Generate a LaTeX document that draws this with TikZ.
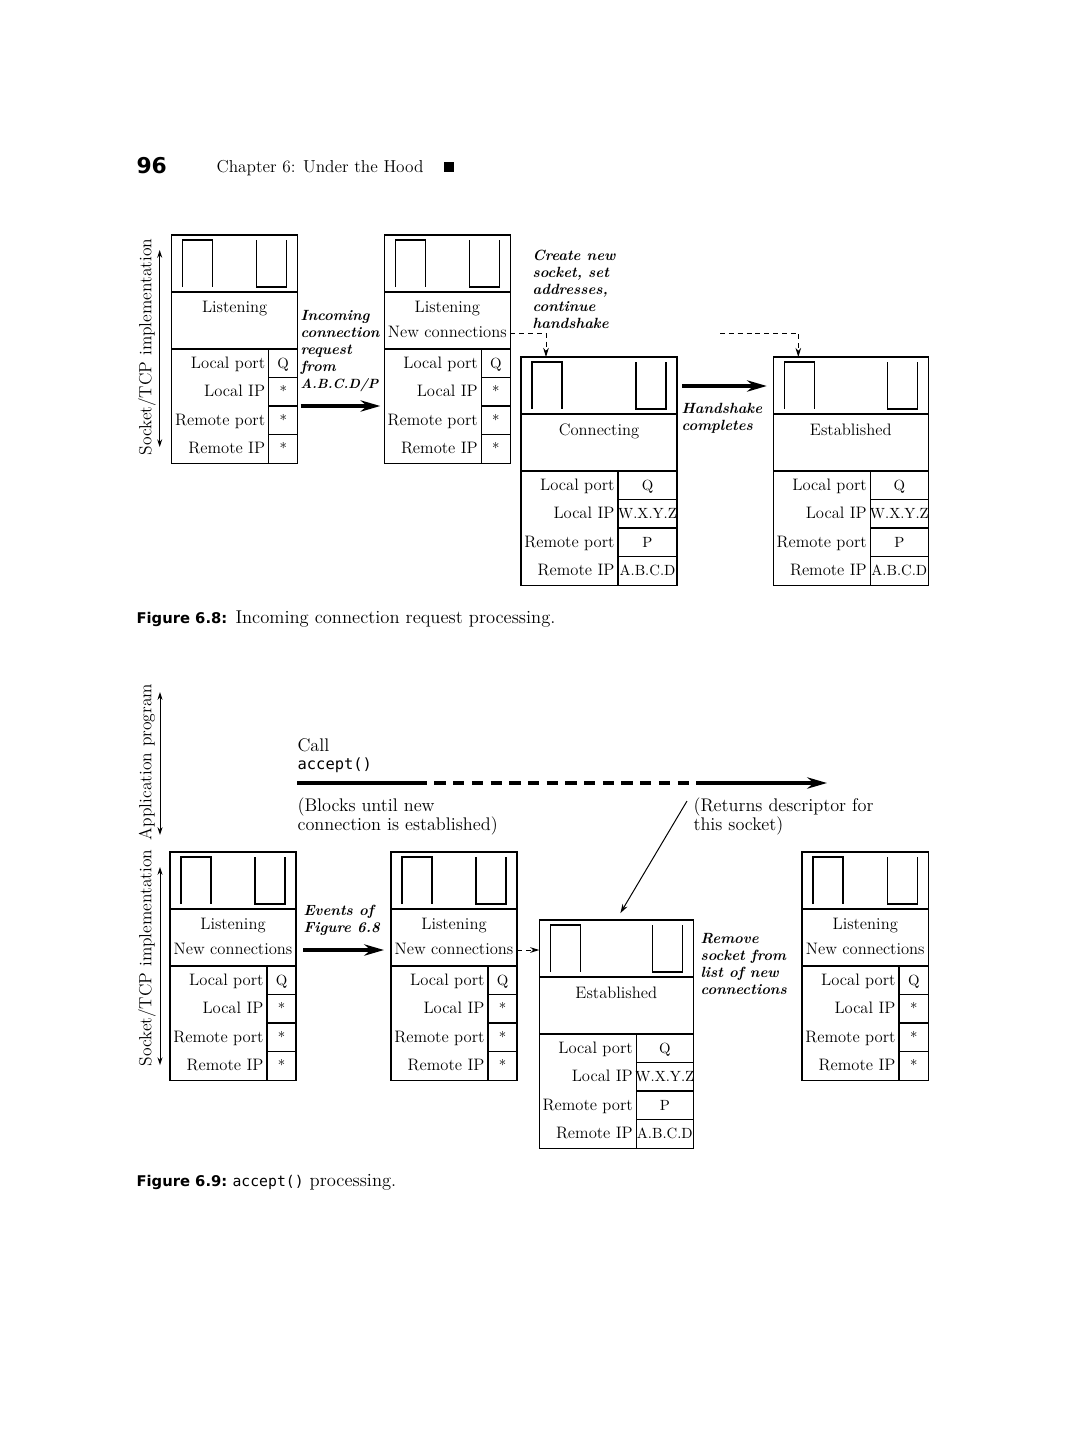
\documentclass[tikz,border=0pt]{standalone}
\usepackage{fontspec}
\newfontfamily\capfont{DejaVu Sans}
\setmonofont{DejaVu Sans Mono}
\usetikzlibrary{arrows.meta,calc}

\tikzset{
  sockframe/.style={draw,inner sep=0pt,outer sep=0pt,minimum height=5.7cm},
  fld/.style={anchor=base east,inner sep=0pt,font=\fontsize{11.8}{13}\selectfont},
  fval/.style={anchor=base,inner sep=0pt,font=\fontsize{10.5}{12}\selectfont},
  mode/.style={anchor=north,inner sep=0pt,align=center,font=\fontsize{11.8}{17.8}\selectfont},
  note/.style={anchor=north west,inner sep=0pt,align=left,font=\fontsize{10.5}{12}\selectfont\bfseries\itshape},
  txt/.style={anchor=north west,inner sep=0pt,align=left,font=\fontsize{13}{12.8}\selectfont},
  side/.style={rotate=90,inner sep=0pt,font=\fontsize{12.5}{14}\selectfont},
  fat/.style={line width=2.8pt},
  fatarrow/.style={fat,-{Stealth[length=14pt,width=8pt]}},
  link/.style={line width=.7pt,dash pattern=on 3.5pt off 2.8pt,-{Stealth[length=6.5pt,width=4pt]}},
  axis/.style={line width=.7pt,{Stealth[length=5.5pt,width=3.5pt]}-{Stealth[length=5.5pt,width=3.5pt]}}
}

% socket record: name, left, top, width, state, local IP, remote port, remote IP
\newcommand{\sockbox}[8]{%
  \node[sockframe,minimum width=#4*0.025cm,anchor=north west] (#1) at (#2,#3) {};
  \draw (#2,#3+57) -- (#2+#4,#3+57) (#2,#3+114) -- (#2+#4,#3+114);
  \draw (#2+97,#3+114) -- (#2+97,#3+228);
  \foreach \r in {1,2,3} \draw (#2+97,#3+114+28.5*\r) -- (#2+#4,#3+114+28.5*\r);
  \draw (#2+11,#3+52) |- (#2+41,#3+5) -- (#2+41,#3+52);
  \draw (#2+#4-41,#3+5) |- (#2+#4-11,#3+52) -- (#2+#4-11,#3+5);
  \node[mode] at (#2+#4/2,#3+66) {#5};
  \foreach \fl/\fv [count=\i] in {Local port/Q,Local IP/#6,Remote port/#7,Remote IP/#8} {
    \node[fld] at (#2+94,#3+104.75+28.5*\i) {\fl};
    \node[fval] at (#2+48.5+#4/2,#3+104.75+28.5*\i) {\fv};
  }
  \coordinate (#1-in) at (#2+25,#3);
  \coordinate (#1-out) at (#2+#4,#3+98);
}

\begin{document}
\begin{tikzpicture}[x=0.025cm,y=-0.025cm,line width=.8pt]
\fill[white] (0,0) rectangle (1080,1440);
\useasboundingbox (0,0) rectangle (1080,1440);
% running head
\node[anchor=base west,inner sep=0pt,font=\capfont\fontsize{15.5}{18}\selectfont\bfseries] (pgno) at (136,173) {96};
\node[anchor=base west,inner sep=0pt,font=\fontsize{12.3}{14}\selectfont] (chap) at (216,172) {Chapter 6: Under the Hood};
\fill (444,162) rectangle (454,172);
% figure 6.8
\sockbox{lst1}{171.7}{235}{126}{Listening}{*}{*}{*}
\sockbox{lst2}{384.3}{235}{126}{Listening\\New connections}{*}{*}{*}
\sockbox{conn}{521}{357}{156}{Connecting}{W.X.Y.Z}{P}{A.B.C.D}
\sockbox{est1}{773.3}{357}{155}{Established}{W.X.Y.Z}{P}{A.B.C.D}
\node[side] (sk1) at (147,347) {Socket/TCP implementation};
\draw[axis] ($(lst1.north west)+(-12,15)$) -- ($(lst1.south west)+(-12,-16)$);
\node[note] (inc) at (300,310) {Incoming\\connection\\request\\from\\{\fontsize{9.5}{12}\selectfont A.B.C.D/P}};
\draw[fatarrow] ($(lst1.north east)+(3,171)$) -- ($(lst2.north west)+(-4,171)$);
\node[note] (crt) at (532,250) {Create new\\socket, set\\addresses,\\continue\\handshake};
\draw[link] (lst2-out) -| (conn-in);
\coordinate (hsfrom) at (720,333);
\draw[link] (hsfrom) -| (est1-in);
\draw[fatarrow] ($(conn.north east)+(5,29)$) -- ($(est1.north west)+(-6.5,29)$);
\node[note] (hsk) at (681,403) {Handshake\\completes};
\node[anchor=base west,inner sep=0pt,font=\capfont\fontsize{10.5}{12}\selectfont\bfseries] (cap1) at (136,623) {Figure 6.8:};
\node[anchor=base west,inner sep=0pt,font=\fontsize{13.2}{15}\selectfont] (cap1t) at (235,623) {Incoming connection request processing.};
% figure 6.9
\sockbox{lst3}{170}{852}{126}{Listening\\New connections}{*}{*}{*}
\sockbox{lst4}{391}{852}{126}{Listening\\New connections}{*}{*}{*}
\sockbox{est2}{539.3}{920}{154}{Established}{W.X.Y.Z}{P}{A.B.C.D}
\sockbox{lst5}{802}{852}{126.5}{Listening\\New connections}{*}{*}{*}
\node[side] (app) at (147,762) {Application program};
\draw[axis] ($(lst3.north west)+(-10,-160)$) -- ($(lst3.north west)+(-10,-17)$);
\node[txt] (call) at (297,738) {Call\\{\ttfamily\fontsize{11}{12.8}\selectfont accept()}};
\coordinate (callA) at (297,783);
\coordinate (callB) at (427,783);
\coordinate (callC) at (698,783);
\coordinate (callD) at (827,783);
\draw[fat] (callA) -- (callB);
\draw[fat,dash pattern=on 8pt off 5.3pt,dash phase=8pt] (callB) -- (callC);
\draw[fatarrow] (callC) -- (callD);
\node[txt] (blk) at (297,797) {(Blocks until new\\connection is established)};
\node[txt] (ret) at (693,797) {(Returns descriptor for\\this socket)};
\node[side] (sk2) at (147,958) {Socket/TCP implementation};
\draw[axis] ($(lst3.north west)+(-10,15)$) -- ($(lst3.south west)+(-10,-15)$);
\node[note] (evt) at (303,905) {Events of\\Figure 6.8};
\draw[fatarrow] ($(lst3.north east)+(7,98)$) -- ($(lst4.north west)+(-7,98)$);
\draw[link] (lst4-out) -- (lst4-out -| est2.west);
\coordinate (retfrom) at (687,801);
\draw[line width=.7pt,-{Stealth[length=6.5pt,width=4pt]},shorten >=0.2cm] (retfrom) -- (est2.north);
\node[note] (rmv) at (700,933) {Remove\\socket from\\list of new\\connections};
\node[anchor=base west,inner sep=0pt,font=\capfont\fontsize{10.5}{12}\selectfont\bfseries] (cap2) at (136,1186) {Figure 6.9:};
\node[anchor=base west,inner sep=0pt,font=\fontsize{13.2}{15}\selectfont] (cap2t) at (232,1186) {{\ttfamily\fontsize{10.5}{12}\selectfont accept()} processing.};
\end{tikzpicture}
\end{document}
